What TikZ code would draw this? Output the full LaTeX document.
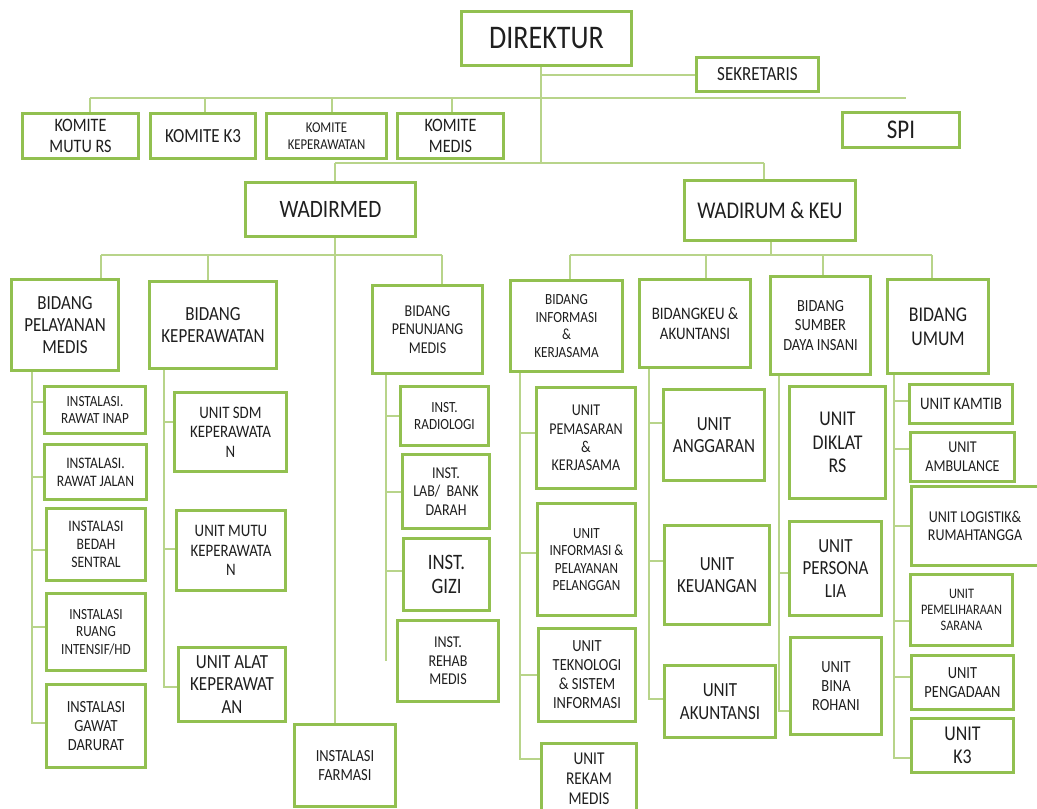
\documentclass[tikz,border=0pt]{standalone}
\usepackage{fontspec}
\setmainfont{Carlito}[FakeStretch=0.85]
\definecolor{boxgreen}{RGB}{146,192,80}
\definecolor{linegreen}{RGB}{184,212,138}
\newcommand{\fsz}[1]{\fontsize{#1}{\fpeval{1.12*#1}}\selectfont}

\begin{document}
\begin{tikzpicture}[x=1pt, y=-1pt,
  unit/.style={draw=boxgreen, line width=3pt, fill=white, align=center, inner sep=1pt, text=black!88},
  sz/.style 2 args={minimum width=#1pt, minimum height=#2pt},
  link/.style={draw=linegreen, line width=2pt}
]
  \useasboundingbox (0,0) rectangle (1037,809);

  % top level
  \node[unit, sz={170}{54}, font=\fsz{33}] (dir) at (546.5,38.5) {DIREKTUR};
  \node[unit, sz={122}{34}, font=\fsz{20}] (sek) at (757.5,74.5) {SEKRETARIS};
  \node[unit, sz={117}{35}, font=\fsz{27}] (spi) at (901,130) {SPI};

  \node[unit, sz={116}{45}, font=\fsz{19}] (kmutu) at (80.5,136) {KOMITE\\MUTU RS};
  \node[unit, sz={105}{45}, font=\fsz{20}] (kk3)   at (203,136)  {KOMITE K3};
  \node[unit, sz={120}{45}, font=\fsz{15}] (kkep)  at (326.5,136) {KOMITE\\KEPERAWATAN};
  \node[unit, sz={106}{45}, font=\fsz{19}] (kmed)  at (450.5,136) {KOMITE\\MEDIS};

  \node[unit, sz={170}{54}, font=\fsz{25}] (wadirmed) at (330.5,209.5) {WADIRMED};
  \node[unit, sz={171}{60}, font=\fsz{24}] (wadirum)  at (770,210.5)   {WADIRUM \& KEU};

  % bidang
  \node[unit, sz={107}{91}, font=\fsz{20}]   (bpm)   at (65,325)     {BIDANG\\PELAYANAN\\MEDIS};
  \node[unit, sz={127}{87}, font=\fsz{20}]   (bkep)  at (213,325)    {BIDANG\\KEPERAWATAN};
  \node[unit, sz={110}{88}, font=\fsz{16.5}] (bpen)  at (427.5,329.5) {BIDANG\\PENUNJANG\\MEDIS};
  \node[unit, sz={112}{91}, font=\fsz{15.5}] (binf)  at (566.5,326)  {BIDANG\\INFORMASI\\\&\\KERJASAMA};
  \node[unit, sz={111}{88}, font=\fsz{17.5}] (bkeu)  at (695,323.5)  {BIDANGKEU \&\\AKUNTANSI};
  \node[unit, sz={100}{98}, font=\fsz{17}]   (bsdi)  at (820.5,325.5) {BIDANG\\SUMBER\\DAYA INSANI};
  \node[unit, sz={101}{94}, font=\fsz{21}]   (bumum) at (938,326.5)  {BIDANG\\UMUM};

  % pelayanan medis
  \node[unit, sz={101}{47}, font=\fsz{15.5}] (irin) at (95,410)    {INSTALASI.\\RAWAT INAP};
  \node[unit, sz={102}{55}, font=\fsz{16}]   (irja) at (95.5,472)  {INSTALASI.\\RAWAT JALAN};
  \node[unit, sz={99}{72},  font=\fsz{16}]   (ibs)  at (96,544.5)  {INSTALASI\\BEDAH\\SENTRAL};
  \node[unit, sz={99}{77},  font=\fsz{15.5}] (iri)  at (96,632)    {INSTALASI\\RUANG\\INTENSIF/HD};
  \node[unit, sz={99}{83},  font=\fsz{17}]   (igd)  at (96,726)    {INSTALASI\\GAWAT\\DARURAT};

  % keperawatan
  \node[unit, sz={112}{79}, font=\fsz{17.5}] (usdm)  at (230.5,432) {UNIT SDM\\KEPERAWATA\\N};
  \node[unit, sz={109}{80}, font=\fsz{17.5}] (umutu) at (231,550.5) {UNIT MUTU\\KEPERAWATA\\N};
  \node[unit, sz={107}{74}, font=\fsz{20}]   (ualat) at (232,684.5) {UNIT ALAT\\KEPERAWAT\\AN};

  % penunjang medis
  \node[unit, sz={88}{59},  font=\fsz{15.5}] (rad)   at (444.5,416) {INST.\\RADIOLOGI};
  \node[unit, sz={87}{74},  font=\fsz{16.5}] (lab)   at (446,491.5) {INST.\\LAB/~ BANK\\DARAH};
  \node[unit, sz={86}{72},  font=\fsz{22}]   (gizi)  at (446.5,574.5) {INST.\\GIZI};
  \node[unit, sz={101}{81}, font=\fsz{16.5}] (rehab) at (448,661)   {INST.\\REHAB\\MEDIS};
  \node[unit, sz={101}{82}, font=\fsz{17}]   (farmasi) at (345,765.5) {INSTALASI\\FARMASI};

  % informasi
  \node[unit, sz={99}{101}, font=\fsz{16.5}] (upem)  at (586,438)   {UNIT\\PEMASARAN\\\&\\KERJASAMA};
  \node[unit, sz={98}{112}, font=\fsz{15.5}] (uinfo) at (586.5,559.5) {UNIT\\INFORMASI \&\\PELAYANAN\\PELANGGAN};
  \node[unit, sz={97}{93},  font=\fsz{17}]   (utek)  at (587,675)   {UNIT\\TEKNOLOGI\\\& SISTEM\\INFORMASI};
  \node[unit, sz={95}{70},  font=\fsz{18}]   (urek)  at (589,778.5) {UNIT\\REKAM\\MEDIS};

  % keuangan
  \node[unit, sz={101}{91}, font=\fsz{20}] (uang)  at (714,435)   {UNIT\\ANGGARAN};
  \node[unit, sz={105}{99}, font=\fsz{20}] (ukeu)  at (717,575)   {UNIT\\KEUANGAN};
  \node[unit, sz={111}{72}, font=\fsz{20}] (uakun) at (720,701.5) {UNIT\\AKUNTANSI};

  % sdi
  \node[unit, sz={96}{112}, font=\fsz{21}] (udik)  at (837.5,442.5) {UNIT\\DIKLAT\\RS};
  \node[unit, sz={92}{94},  font=\fsz{20}] (upers) at (835.5,568.5) {UNIT\\PERSONA\\LIA};
  \node[unit, sz={91}{97},  font=\fsz{17}] (ubina) at (836,686)     {UNIT\\BINA\\ROHANI};

  % umum
  \node[unit, sz={103}{39},  font=\fsz{17.5}] (ukam)  at (961,404)    {UNIT KAMTIB};
  \node[unit, sz={104}{49},  font=\fsz{16.5}] (uamb)  at (962.5,457)  {UNIT\\AMBULANCE};
  \node[unit, sz={127}{79},  font=\fsz{16.5}] (ulog)  at (975,526)    {UNIT LOGISTIK\&\\RUMAHTANGGA};
  \node[unit, sz={102}{71},  font=\fsz{14.5}] (upml)  at (961.5,610)  {UNIT\\PEMELIHARAAN\\SARANA};
  \node[unit, sz={102}{54},  font=\fsz{17}]   (upeng) at (962.5,682.5) {UNIT\\PENGADAAN};
  \node[unit, sz={102}{54},  font=\fsz{21}]   (uk3)   at (962.5,745.5) {UNIT\\K3};

  % lines from direktur
  \coordinate (dirfork) at (541,163);
  \draw[link] (90,98) -- (906,98);
  \foreach \c/\x in {kmutu/90, kk3/205, kkep/332, kmed/452}
    \draw[link] (\x,98) -- (\x,98 |- \c.north);
  \draw[link] (dirfork |- dir.south) -- (dirfork);
  \draw[link] (dirfork |- sek.west) -- (sek.west);
  \draw[link] (335,163) -- (764,163);
  \draw[link] (335,163) -- (335,163 |- wadirmed.north);
  \draw[link] (764,163) -- (764,163 |- wadirum.north);

  % wadirmed
  \draw[link] (335,0 |- wadirmed.south) -- (335,0 |- farmasi.north);
  \draw[link] (101,255) -- (442,255);
  \foreach \c/\x in {bpm/101, bkep/208, bpen/442}
    \draw[link] (\x,255) -- (\x,255 |- \c.north);

  % wadirum
  \draw[link] (771,0 |- wadirum.south) -- (771,255);
  \draw[link] (570,255) -- (932,255);
  \foreach \c/\x in {binf/570, bkeu/706, bsdi/823, bumum/932}
    \draw[link] (\x,255) -- (\x,255 |- \c.north);

  % units
  \foreach \c/\d in {irin/8, irja/-5, ibs/-5, iri/5, igd/3}
    \draw[link] (32,0 |- bpm.south) |- ([yshift=\d pt]\c.west);
  \foreach \c/\d in {usdm/10, umutu/2, ualat/-2}
    \draw[link] (164,0 |- bkep.south) |- ([yshift=\d pt]\c.west);
  \foreach \c/\d in {rad/0, lab/0, gizi/4}
    \draw[link] (386,0 |- bpen.south) |- ([yshift=\d pt]\c.west);
  \draw[link] (386,0 |- bpen.south) -- (386,0 |- rehab.west);
  \foreach \c/\d in {upem/5, uinfo/7, utek/0, urek/20}
    \draw[link] (520,0 |- binf.south) |- ([yshift=\d pt]\c.west);
  \foreach \c/\d in {uang/12, ukeu/14, uakun/3}
    \draw[link] (649,0 |- bkeu.south) |- ([yshift=\d pt]\c.west);
  \foreach \c/\d in {upers/-4, ubina/-25}
    \draw[link] (779,0 |- bsdi.south) |- ([yshift=\d pt]\c.west);
  \foreach \c/\d in {ukam/3, uamb/8, ulog/0, upml/-11, upeng/6, uk3/-12}
    \draw[link] (894,0 |- bumum.south) |- ([yshift=\d pt]\c.west);
\end{tikzpicture}
\end{document}
